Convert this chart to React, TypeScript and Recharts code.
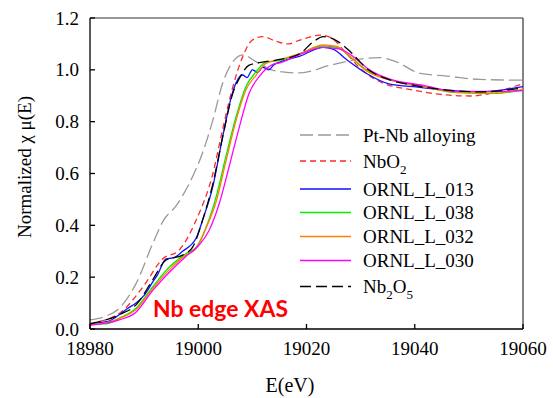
import React from "react";
import { LineChart, Line, XAxis, YAxis, ReferenceLine, Legend } from "recharts";

// axis ticks
const xTicks = [18980, 19000, 19020, 19040, 19060];
const yTicks = [0, 0.2, 0.4, 0.6, 0.8, 1.0, 1.2];

// Pt-Nb alloying
const ptNbE = [18980, 18983, 18985.4, 18988.5, 18991.6, 18993.6, 18995.9, 18998.3, 19000.8, 19002.7, 19004.5, 19006.4, 19008.2, 19010.7, 19013.7, 19015.1, 19018.8, 19024.4, 19029.3, 19033.6, 19036.7, 19041.0, 19045.9, 19052.0, 19060];
const ptNbMu = [0.035, 0.05, 0.08, 0.175, 0.33, 0.42, 0.475, 0.56, 0.68, 0.806, 0.948, 1.031, 1.058, 1.031, 0.999, 0.993, 0.988, 1.018, 1.04, 1.047, 1.03, 0.986, 0.976, 0.963, 0.96];

// NbO2
const nbo2E = [18980, 18985.4, 18989.7, 18993.4, 18996.5, 18999.6, 19002.7, 19004.5, 19006.4, 19008.2, 19010.0, 19011.9, 19014.4, 19016.5, 19018.8, 19022.5, 19024.4, 19027.4, 19029.9, 19033.6, 19039.7, 19045.9, 19050.2, 19055.1, 19060];
const nbo2Mu = [0.022, 0.06, 0.16, 0.27, 0.305, 0.42, 0.6, 0.77, 0.935, 1.05, 1.115, 1.128, 1.11, 1.1, 1.115, 1.134, 1.125, 1.063, 1.006, 0.954, 0.922, 0.903, 0.899, 0.915, 0.947];

// ORNL_L_013 (noisy)
const l013E = [18980, 18982, 18983.5, 18985.4, 18987, 18988.5, 18990, 18991.6, 18992.5, 18994, 18995.5, 18997.1, 18999.6, 19000.8, 19002.7, 19004.5, 19006.4, 19008.2, 19009, 19010, 19011, 19011.9, 19013, 19014, 19015.1, 19018.8, 19023.1, 19024.9, 19027.4, 19031.1, 19035.4, 19039.7, 19045.9, 19052, 19060];
const l013Mu = [0.02, 0.025, 0.03, 0.055, 0.08, 0.1, 0.13, 0.182, 0.21, 0.27, 0.275, 0.3, 0.35, 0.42, 0.55, 0.74, 0.917, 0.98, 0.97, 1.0, 0.99, 1.01, 1.0, 1.02, 1.03, 1.053, 1.087, 1.08, 1.04, 0.986, 0.945, 0.935, 0.922, 0.915, 0.935];

// ORNL_L_038
const l038E = [18980, 18983, 18985.4, 18988.5, 18991.6, 18994.7, 18997.7, 18999.6, 19001.4, 19003.3, 19005.1, 19007.0, 19008.8, 19010.7, 19012.5, 19015.1, 19018.8, 19023.1, 19025.6, 19028.1, 19031.1, 19035.4, 19041.6, 19047.7, 19054.5, 19060];
const l038Mu = [0.02, 0.02, 0.042, 0.08, 0.163, 0.24, 0.29, 0.315, 0.39, 0.51, 0.665, 0.82, 0.935, 0.993, 1.03, 1.037, 1.063, 1.092, 1.087, 1.05, 0.999, 0.961, 0.935, 0.912, 0.909, 0.922];

// ORNL_L_032
const l032E = [18980, 18985.4, 18988.5, 18991.6, 18994.7, 18997.7, 18999.6, 19001.4, 19003.3, 19005.1, 19007.0, 19008.8, 19010.7, 19012.5, 19015.1, 19018.8, 19023.1, 19025.6, 19028.1, 19031.1, 19035.4, 19041.6, 19047.7, 19054.5, 19060];
const l032Mu = [0.015, 0.04, 0.075, 0.157, 0.23, 0.285, 0.31, 0.388, 0.491, 0.646, 0.806, 0.922, 0.98, 1.025, 1.04, 1.063, 1.096, 1.09, 1.05, 0.996, 0.961, 0.935, 0.913, 0.91, 0.925];

// ORNL_L_030
const l030E = [18980, 18985.4, 18988.5, 18991.6, 18994.7, 18997.7, 19000.2, 19002.0, 19003.9, 19005.7, 19007.6, 19009.4, 19011.3, 19013.7, 19015.1, 19018.8, 19023.1, 19026.2, 19028.7, 19031.7, 19035.4, 19041.6, 19047.7, 19054.5, 19060];
const l030Mu = [0.015, 0.035, 0.065, 0.149, 0.22, 0.28, 0.325, 0.38, 0.485, 0.626, 0.78, 0.91, 0.975, 1.02, 1.027, 1.06, 1.087, 1.08, 1.05, 0.999, 0.964, 0.94, 0.917, 0.917, 0.92];

// Nb2O5
const nb2o5E = [18980, 18985.4, 18988.5, 18991.6, 18994.0, 18997.1, 18999.0, 19000.8, 19002.7, 19004.5, 19006.4, 19007.6, 19009.4, 19011.9, 19015.1, 19018.8, 19021.3, 19023.1, 19025.6, 19028.1, 19031.1, 19035.4, 19039.7, 19045.9, 19052.0, 19060];
const nb2o5Mu = [0.02, 0.055, 0.093, 0.19, 0.265, 0.285, 0.317, 0.42, 0.56, 0.74, 0.91, 0.967, 1.018, 1.03, 1.04, 1.063, 1.109, 1.128, 1.112, 1.07, 1.006, 0.961, 0.941, 0.922, 0.915, 0.93];

const toPoints = (e: number[], mu: number[]) => e.map((x, i) => ({ e: x, mu: mu[i] }));

const series = [
  { key: "ptnb", name: "Pt-Nb alloying", color: "#9a9a9a", dash: "13 5", data: toPoints(ptNbE, ptNbMu) },
  { key: "nbo2", name: "NbO2", color: "#ff2a2a", dash: "6 4", data: toPoints(nbo2E, nbo2Mu) },
  { key: "l013", name: "ORNL_L_013", color: "#1010ff", dash: undefined, data: toPoints(l013E, l013Mu) },
  { key: "l038", name: "ORNL_L_038", color: "#00ee00", dash: undefined, data: toPoints(l038E, l038Mu) },
  { key: "l032", name: "ORNL_L_032", color: "#ff8000", dash: undefined, data: toPoints(l032E, l032Mu) },
  { key: "l030", name: "ORNL_L_030", color: "#ff00ff", dash: undefined, data: toPoints(l030E, l030Mu) },
  { key: "nb2o5", name: "Nb2O5", color: "#000000", dash: "11 5", data: toPoints(nb2o5E, nb2o5Mu) },
];

const serif = "Liberation Serif, DejaVu Serif, serif";
const rowY = [135, 161, 189, 212.5, 236.5, 260.5, 286.5];

function XTick(props: any) {
  const { x, y, payload } = props;
  return (
    <text x={x} y={y} dy="0.71em" textAnchor="middle" style={{ fontFamily: serif, fontSize: 19 }} fill="#000">
      {payload.value}
    </text>
  );
}

function YTick(props: any) {
  const { x, y, payload } = props;
  return (
    <text x={x} y={y} dy="0.35em" textAnchor="end" style={{ fontFamily: serif, fontSize: 19 }} fill="#000">
      {Number(payload.value).toFixed(1)}
    </text>
  );
}

function legendLabel(name: string) {
  if (name === "NbO2")
    return (
      <>
        NbO<tspan dy={6} fontSize={13}>2</tspan>
      </>
    );
  if (name === "Nb2O5")
    return (
      <>
        Nb<tspan dy={6} fontSize={13}>2</tspan>
        <tspan dy={-6}>O</tspan>
        <tspan dy={6} fontSize={13}>5</tspan>
      </>
    );
  return name;
}

function ChartLegend() {
  return (
    <svg width={553} height={398} style={{ position: "absolute", left: 0, top: 0, pointerEvents: "none" }}>
      {series.map((s, i) => (
        <g key={s.key}>
          <line x1={300} x2={351} y1={rowY[i]} y2={rowY[i]} stroke={s.color} strokeWidth={1.3} strokeDasharray={s.dash} />
          <text x={363} y={rowY[i] + 6.5} style={{ fontFamily: serif, fontSize: 19 }} fill="#000">
            {legendLabel(s.name)}
          </text>
        </g>
      ))}
    </svg>
  );
}

export default function App() {
  return (
    <div style={{ position: "absolute", left: 0, top: 0, width: 553, height: 398, background: "#fff", fontFamily: serif }}>
      <LineChart width={553} height={398} margin={{ top: 18, right: 30, bottom: 29, left: 30 }}>
        <XAxis
          dataKey="e"
          type="number"
          domain={[18980, 19060]}
          ticks={xTicks}
          allowDataOverflow
          height={40}
          stroke="#000"
          strokeWidth={1.3}
          tickSize={-5}
          tickMargin={18}
          tick={<XTick />}
          label={{
            content: () => (
              <text x={290} y={392} textAnchor="middle" style={{ fontFamily: serif, fontSize: 20 }} fill="#000">
                E(eV)
              </text>
            ),
          }}
        />
        <YAxis
          type="number"
          domain={[0, 1.2]}
          ticks={yTicks}
          allowDataOverflow
          width={60}
          stroke="#000"
          strokeWidth={1.3}
          tickSize={-5}
          tickMargin={16}
          tick={<YTick />}
          label={{
            content: () => (
              <text x={31} y={167} transform="rotate(-90 31 167)" textAnchor="middle" style={{ fontFamily: serif, fontSize: 19 }} fill="#000">
                Normalized χ μ(E)
              </text>
            ),
          }}
        />
        <ReferenceLine y={1.2} stroke="#333" strokeWidth={1.2} />
        <ReferenceLine x={19060} stroke="#333" strokeWidth={1.2} />
        {series.map((s) => (
          <Line
            key={s.key}
            data={s.data}
            dataKey="mu"
            name={s.name}
            type="monotone"
            stroke={s.color}
            strokeWidth={1.3}
            strokeDasharray={s.dash}
            dot={false}
            isAnimationActive={false}
          />
        ))}
        <Legend content={() => null} />
      </LineChart>
      <ChartLegend />
      <svg width={553} height={398} style={{ position: "absolute", left: 0, top: 0, pointerEvents: "none" }}>
        <text x={153} y={317} style={{ fontFamily: "Lato, 'Open Sans', sans-serif", fontWeight: "bold", fontSize: 23 }} fill="#ff0000" textLength={135} lengthAdjust="spacingAndGlyphs">
          Nb edge XAS
        </text>
      </svg>
    </div>
  );
}
